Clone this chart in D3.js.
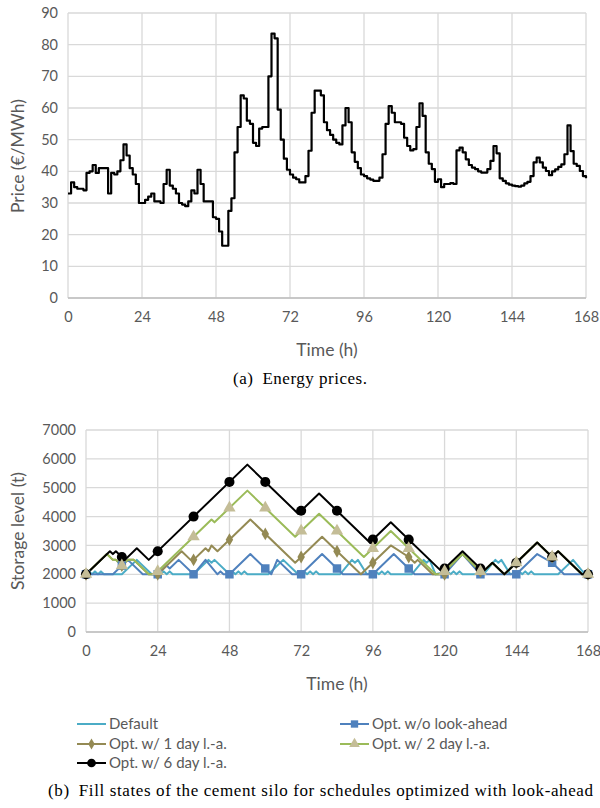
<!DOCTYPE html>
<html><head><meta charset="utf-8">
<script src="https://cdn.jsdelivr.net/npm/d3@7"></script>
<style>body{margin:0;background:#fff;}svg{display:block;}</style>
</head><body>
<svg id="c" width="600" height="808"></svg>
<script>
// ---------- data ----------
const priceHours = d3.range(0, 169);
const prices = [
 33,36.5,35,34.5,34.5,34,39.5,40,42,39.5,41,41,41,33,39.5,39,40,43.5,48.5,45,41,39,36,30,
 30,31,32,33,30.5,30.5,30,36,40.5,35.5,34.5,33,30,29.5,29,30.5,34,33,40.5,36,30.5,30.5,30.5,25.5,
 25,21,16.5,16.5,27.5,31.5,46,54,64,63,56,55,49,48,53.5,54,54,70,83.5,82,59.5,50,44,40.5,
 39,38,37.5,36.5,36.5,38.5,46.5,58.5,65.5,65.5,64,55.5,53,51.5,50,49,48.5,54.5,60,55.5,46,43,41,39,
 38.5,37.8,37.4,37,37,38,45.4,55,60.6,58.5,55.5,55.5,55,50.6,48,46.6,47,54,61.5,57.5,46,42.4,40.7,36.7,
 37.5,35,36,36,36.3,36,46.6,47.5,46,43.8,42,41.2,40.7,40,39.6,39.6,40.7,43.3,48,45.7,37.8,37,36.2,35.8,
 35.5,35.3,35.2,35.5,36.2,36.7,38.5,42.8,44.3,42.8,41.2,40.1,38.8,40,40.6,41.4,42.2,45.4,54.5,46.4,42.4,41.7,40.1,38.5,
 37.8];
const priceTicks = [0,10,20,30,40,50,60,70,80,90];
const timeTicks = [0,24,48,72,96,120,144,168];
const storageTicks = [0,1000,2000,3000,4000,5000,6000,7000];
const markerHours = [0,12,24,36,48,60,72,84,96,108,120,132,144,156,168];

// storage level breakpoints [hour, tonnes]
const levelDefault = [[0,2000],[1,2100],[2,2000],[3,2100],[4,2000],[5,2100],[6,2000],[12,2000],[17,2500],[22,2000],
 [25,2000],[26,2100],[27,2000],[28,2100],[29,2000],[36,2000],[41,2500],[42,2400],[43,2500],[48,2000],
 [49,2100],[50,2000],[51,2100],[52,2000],[53,2100],[54,2000],[61,2000],[66,2500],[71,2000],
 [73,2100],[74,2000],[75,2100],[76,2000],[77,2100],[78,2000],[85,2000],[89,2500],[90,2400],[91,2500],[94,2000],
 [97,2100],[98,2000],[99,2100],[100,2000],[101,2100],[102,2000],[109,2000],[113,2500],[114,2400],[115,2500],[117,2000],
 [121,2100],[122,2000],[123,2100],[124,2000],[125,2100],[126,2000],[133,2000],[137,2500],[138,2400],[139,2500],[142,2000],
 [145,2100],[146,2000],[147,2100],[148,2000],[149,2100],[150,2000],[158,2000],[163,2500],[167,2000],[168,2000]];
const levelNoLA = [[0,2000],[9,2000],[12,2300],[14,2500],[19,2000],[24,2000],[27,2300],[28,2200],[31,2500],[36,2000],
 [40,2500],[44,2000],[45,2100],[46,2000],[48,2000],[55,2700],[60,2200],[62,2000],[64,2500],[69,2000],[72,2000],
 [79,2700],[84,2200],[86,2000],[96,2000],[103,2700],[108,2200],[110,2000],[120,2000],[126,2700],[132,2000],
 [144,2000],[151,2700],[156,2400],[160,2000],[168,2000]];
const level1Day = [[0,2000],[7,2700],[9,2500],[10,2500],[12,2300],[14,2500],[16,2500],[21,2000],[24,2000],[32,2800],
 [35,2500],[36,2500],[40,2900],[41,2800],[42,3000],[44,2800],[55,3900],[70,2400],[79,3300],[92,2000],[102,3000],[108,2600],
 [110,2400],[111,2500],[116,2000],[119,2000],[126,2700],[132,2100],[133,2100],[136,2400],[140,2000],[151,3100],
 [156,2600],[158,2800],[166,2000],[168,2000]];
const level2Day = [[0,2000],[7,2700],[9,2500],[10,2500],[12,2300],[14,2500],[16,2500],[21,2000],[23,2000],[42,3900],
 [43,3800],[54,4900],[70,3300],[78,4100],[93,2600],[102,3500],[117,2000],[119,2000],[126,2700],[132,2100],[133,2100],
 [136,2400],[140,2000],[151,3100],[156,2600],[158,2800],[166,2000],[168,2000]];
const level6Day = [[0,2000],[8,2800],[9,2700],[10,2800],[13,2500],[17,2900],[21,2500],[54,5800],[71,4100],[78,4800],
 [95,3100],[102,3800],[119,2100],[126,2800],[133,2100],[136,2400],[140,2000],[151,3100],[156,2600],[158,2800],
 [166,2000],[168,2000]];

// marker values at markerHours
const markNoLA = [2000,2300,2000,2000,2000,2200,2000,2200,2000,2200,2000,2000,2000,2400,2000];
const mark1Day = [2000,2300,2000,2500,3200,3400,2600,2800,2400,2600,2000,2100,2400,2600,2000];
const mark2Day = [2000,2300,2100,3300,4300,4300,3500,3500,2900,2900,2100,2100,2400,2600,2000];
const mark6Day = [2000,2600,2800,4000,5200,5200,4200,4200,3200,3200,2200,2200,2400,2600,2000];

const seriesNames = ["Default","Opt. w/o look-ahead","Opt. w/ 1 day l.-a.","Opt. w/ 2 day l.-a.","Opt. w/ 6 day l.-a."];

// ---------- drawing ----------
const svg = d3.select("#c");
const FONT = "Lato, 'Open Sans', sans-serif";
const SERIF = "'Liberation Serif', 'DejaVu Serif', serif";
const TXT = "#595959";
const GRID = "#d9d9d9";

function frame(g, x, y, yTicks, yFmt){
  g.append("g").selectAll("line").data(yTicks).join("line")
    .attr("x1", x.range()[0]).attr("x2", x.range()[1])
    .attr("y1", d=>y(d)).attr("y2", d=>y(d))
    .attr("stroke", GRID).attr("stroke-width", 1.3);
  g.append("g").selectAll("line").data(timeTicks).join("line")
    .attr("x1", d=>x(d)).attr("x2", d=>x(d))
    .attr("y1", y.range()[0]).attr("y2", y.range()[1])
    .attr("stroke", GRID).attr("stroke-width", 1.3);
  g.append("line").attr("x1", x.range()[0]).attr("x2", x.range()[1])
    .attr("y1", y(0)).attr("y2", y(0)).attr("stroke", "#bfbfbf").attr("stroke-width", 1.3);
  const ya = d3.axisLeft(y).tickValues(yTicks).tickSize(0).tickPadding(0).tickFormat(yFmt);
  const yg = g.append("g").attr("transform", `translate(${x.range()[0]-10},0)`).call(ya);
  yg.select(".domain").remove();
  yg.selectAll("text").attr("font-family", FONT).attr("font-size", 14.5).attr("fill", TXT);
  const xa = d3.axisBottom(x).tickValues(timeTicks).tickSize(0).tickPadding(0);
  const xg = g.append("g").attr("transform", `translate(0,${y(0)+14})`).call(xa);
  xg.select(".domain").remove();
  xg.selectAll("text").attr("font-family", FONT).attr("font-size", 14.5).attr("fill", TXT);
}

// ---- top chart: prices
const x1 = d3.scaleLinear().domain([0,168]).range([68,586]);
const y1 = d3.scaleLinear().domain([0,90]).range([298,13]);
const g1 = svg.append("g");
frame(g1, x1, y1, priceTicks, d3.format("d"));
g1.append("path").datum(priceHours)
  .attr("d", d3.line().x(h=>x1(h)).y(h=>y1(prices[h])).curve(d3.curveStepAfter))
  .attr("fill","none").attr("stroke","#000").attr("stroke-width",2.2).attr("stroke-linejoin","round");
g1.append("text").attr("transform","translate(24,156) rotate(-90)").attr("text-anchor","middle")
  .attr("font-family",FONT).attr("font-size",17.5).attr("fill",TXT).text("Price (€/MWh)");
g1.append("text").attr("x",327).attr("y",356).attr("text-anchor","middle")
  .attr("font-family",FONT).attr("font-size",17.5).attr("fill",TXT).text("Time (h)");
svg.append("text").attr("x",233).attr("y",384)
  .attr("font-family",SERIF).attr("font-size",17).attr("fill","#000")
  .attr("textLength",134).attr("lengthAdjust","spacing")
  .text("(a)\u2002Energy prices.");

// ---- bottom chart: storage
const x2 = d3.scaleLinear().domain([0,168]).range([86,588]);
const y2 = d3.scaleLinear().domain([0,7000]).range([632,430]);
const g2 = svg.append("g");
frame(g2, x2, y2, storageTicks, d3.format("d"));
g2.append("text").attr("transform","translate(24,531) rotate(-90)").attr("text-anchor","middle")
  .attr("font-family",FONT).attr("font-size",17.5).attr("fill",TXT).text("Storage level (t)");
g2.append("text").attr("x",337).attr("y",690).attr("text-anchor","middle")
  .attr("font-family",FONT).attr("font-size",17.5).attr("fill",TXT).text("Time (h)");

const styles = [
  {data:levelDefault, marks:null,     color:"#4BACC6", mfill:null,      shape:null},
  {data:levelNoLA,    marks:markNoLA, color:"#4F81BD", mfill:"#4F81BD", shape:d3.symbolSquare, size:72},
  {data:level1Day,    marks:mark1Day, color:"#948A54", mfill:"#948A54", shape:d3.symbolDiamond, size:48},
  {data:level2Day,    marks:mark2Day, color:"#9BBB59", mfill:"#C4BD97", shape:d3.symbolTriangle, size:66},
  {data:level6Day,    marks:mark6Day, color:"#000000", mfill:"#000000", shape:d3.symbolCircle, size:80}
];
const line2 = d3.line().x(d=>x2(d[0])).y(d=>y2(d[1]));
styles.forEach(s=>{
  g2.append("path").datum(s.data).attr("d", line2).attr("fill","none")
    .attr("stroke", s.color).attr("stroke-width", 2).attr("stroke-linejoin","round");
});
// markers drawn after all lines; triangles end up on top
[1,2,4,3].forEach(i=>{
  const s = styles[i];
  g2.append("g").selectAll("path").data(s.marks).join("path")
    .attr("transform",(d,k)=>`translate(${x2(markerHours[k])},${y2(d)})`)
    .attr("d", d3.symbol().type(s.shape).size(s.size)).attr("fill", s.mfill);
});

// legend
const legPos = [[77,724],[340,724],[77,744],[340,744],[77,763]];
const lg = svg.append("g");
styles.forEach((s,i)=>{
  const [lx,ly] = legPos[i];
  lg.append("line").attr("x1",lx).attr("x2",lx+29).attr("y1",ly).attr("y2",ly)
    .attr("stroke",s.color).attr("stroke-width",2);
  if (s.shape){
    lg.append("path").attr("transform",`translate(${lx+14.5},${ly})`)
      .attr("d", d3.symbol().type(s.shape).size(s.size*0.75)).attr("fill", s.mfill);
  }
  lg.append("text").attr("x",lx+32).attr("y",ly).attr("dy","0.35em")
    .attr("font-family",FONT).attr("font-size",15).attr("fill",TXT).text(seriesNames[i]);
});
svg.append("text").attr("x",48).attr("y",796)
  .attr("font-family",SERIF).attr("font-size",17).attr("fill","#000")
  .attr("textLength",545).attr("lengthAdjust","spacing")
  .text("(b)\u2002Fill states of the cement silo for schedules optimized with look-ahead");
</script>
</body></html>
